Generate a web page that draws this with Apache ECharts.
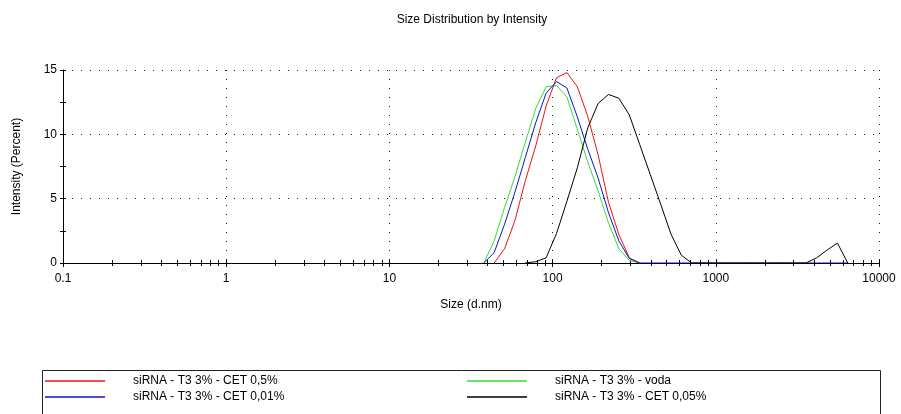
<!DOCTYPE html>
<html>
<head>
<meta charset="utf-8">
<script src="https://cdn.jsdelivr.net/npm/echarts@6/dist/echarts.min.js"></script>
<style>
  html, body { margin: 0; padding: 0; background: #fff; }
  #chart { width: 901px; height: 414px; }
</style>
</head>
<body>
<div id="chart"></div>
<script>
// size bins (d.nm) and intensity (%) per sample
var sizes = [37.84, 43.82, 50.75, 58.77, 68.06, 78.82, 91.28, 105.7, 122.4, 141.8, 164.2, 190.1, 220.2, 255.0, 295.3, 342.0,
  396.1, 458.7, 531.2, 615.1, 712.4, 825.0, 955.4, 1106, 1281, 1484, 1718, 1990, 2305, 2669, 3091, 3580, 4145, 4801, 5560, 6439];
var cet05 = [null, 0, 1.1, 3.3, 6.4, 9.1, 12.2, 14.4, 14.8, 13.7, 11.4, 8.4, 4.7, 2.2, 0.4, 0,
  null, null, null, null, null, null, null, null, null, null, null, null, null, null, null, null, null, null, null, null];
var cet001 = [0, 0.8, 3.0, 5.5, 8.2, 10.9, 13.2, 14.1, 13.6, 11.35, 8.85, 6.6, 3.9, 1.7, 0.35, 0,
  0, 0, 0, 0, 0, 0, 0, 0, 0, 0, 0, 0, 0, 0, 0, 0, 0, 0, 0, 0];
var voda = [0, 1.7, 4.3, 6.7, 9.4, 12.0, 13.7, 13.8, 12.9, 10.4, 7.85, 5.6, 3.1, 1.1, 0.2, 0,
  null, null, null, null, null, null, null, null, null, null, null, null, null, null, null, null, null, null, null, null];
var cet005 = [null, null, null, null, 0, 0.1, 0.4, 2.3, 4.8, 7.4, 10.5, 12.4, 13.1, 12.8, 11.5, 9.2,
  6.9, 4.6, 2.25, 0.6, 0, 0, 0, 0, 0, 0, 0, 0, 0, 0, 0, 0, 0.4, 1.0, 1.55, 0];

var names = ['siRNA - T3 3% - CET 0,5%', 'siRNA - T3 3% - CET 0,01%', 'siRNA - T3 3% - voda', 'siRNA - T3 3% - CET 0,05%'];
var xLabels = [0.1, 1, 10, 100, 1000, 10000];
var xTicks = [0.1, 0.2, 0.3, 0.4, 0.5, 0.6, 0.7, 0.8, 0.9,
  1, 2, 3, 4, 5, 6, 7, 8, 9,
  10, 20, 30, 40, 50, 60, 70, 80, 90,
  100, 200, 300, 400, 500, 600, 700, 800, 900,
  1000, 2000, 3000, 4000, 5000, 6000, 7000, 8000, 9000, 10000];
var yLabels = [0, 5, 10, 15];

function pairs(vals) {
  return sizes.map(function (s, i) { return [s, vals[i]]; });
}

var myChart = echarts.init(document.getElementById('chart'));
var font = 'Liberation Sans, Arial, sans-serif';
var dots = { color: '#222', width: 1, type: [1, 8] };
var lineIcon = 'path://M0,0 L60,0 L60,1.5 L0,1.5 Z';

function mkSeries(name, vals, color, z) {
  return {
    name: name,
    type: 'line',
    data: pairs(vals),
    symbol: 'none',
    connectNulls: false,
    z: z,
    lineStyle: { color: color, width: 1 },
    itemStyle: { color: color }
  };
}

// extra bottom axis used only for the small log ticks
function tickAxis(inside) {
  return {
    type: 'log',
    logBase: 10,
    min: 0.1,
    max: 10000,
    position: 'bottom',
    axisLine: { show: false },
    axisTick: { show: true, inside: inside, length: 3, customValues: xTicks, lineStyle: { color: '#000' } },
    axisLabel: { show: false },
    splitLine: { show: false }
  };
}

var option = {
  animation: false,
  backgroundColor: '#fff',
  textStyle: { fontFamily: font },
  title: {
    text: 'Size Distribution by Intensity',
    left: 467,
    textAlign: 'center',
    top: 9,
    textStyle: { fontSize: 12, fontWeight: 'normal', color: '#000', fontFamily: font }
  },
  grid: { left: 63, right: 22, top: 70, bottom: 151, containLabel: false },
  xAxis: [{
    type: 'log',
    logBase: 10,
    min: 0.1,
    max: 10000,
    name: 'Size (d.nm)',
    nameLocation: 'middle',
    nameGap: 36,
    nameTextStyle: { fontSize: 12, color: '#000', fontFamily: font },
    axisLine: { show: true, lineStyle: { color: '#000', width: 1 } },
    axisTick: { show: true, length: 4, lineStyle: { color: '#000' } },
    axisLabel: {
      customValues: xLabels, fontSize: 12, color: '#000', margin: 10, fontFamily: font,
      formatter: function (v) { return String(v); }
    },
    splitLine: { show: true, lineStyle: dots }
  }, tickAxis(false), tickAxis(true)],
  yAxis: [{
    type: 'value',
    min: 0,
    max: 15,
    interval: 5,
    name: 'Intensity (Percent)',
    nameLocation: 'middle',
    nameGap: 40,
    nameTextStyle: { fontSize: 12, color: '#000', fontFamily: font },
    axisLine: { show: true, lineStyle: { color: '#000', width: 1 } },
    axisTick: { show: true, length: 3, lineStyle: { color: '#000' } },
    minorTick: { show: true, splitNumber: 2, length: 3, lineStyle: { color: '#000' } },
    axisLabel: { customValues: yLabels, fontSize: 12, color: '#000', margin: 6, fontFamily: font },
    splitLine: { show: true, lineStyle: dots }
  }, {
    type: 'value',
    min: 0,
    max: 15,
    interval: 2.5,
    position: 'left',
    axisLine: { show: false },
    axisTick: { show: true, inside: true, length: 3, lineStyle: { color: '#000' } },
    axisLabel: { show: false },
    splitLine: { show: false }
  }],
  legend: [{
    orient: 'vertical',
    left: 45,
    top: 375,
    padding: 0,
    icon: lineIcon,
    itemWidth: 60,
    itemHeight: 13,
    itemGap: 4,
    data: [names[0], names[1]],
    textStyle: { fontSize: 12, color: '#000', fontFamily: font, padding: [0, 0, 0, 23] }
  }, {
    orient: 'vertical',
    left: 467,
    top: 375,
    padding: 0,
    icon: lineIcon,
    itemWidth: 60,
    itemHeight: 13,
    itemGap: 4,
    data: [names[2], names[3]],
    textStyle: { fontSize: 12, color: '#000', fontFamily: font, padding: [0, 0, 0, 23] }
  }],
  graphic: [{
    type: 'rect',
    left: 40,
    top: 368,
    shape: { width: 838, height: 80 },
    style: { fill: 'none', stroke: '#222', lineWidth: 1 },
    z: -1
  }],
  series: [
    mkSeries(names[0], cet05, '#ee1111', 3),
    mkSeries(names[2], voda, '#33dd33', 2),
    mkSeries(names[1], cet001, '#1111cc', 4),
    mkSeries(names[3], cet005, '#000000', 5)
  ]
};
myChart.setOption(option);
</script>
</body>
</html>
